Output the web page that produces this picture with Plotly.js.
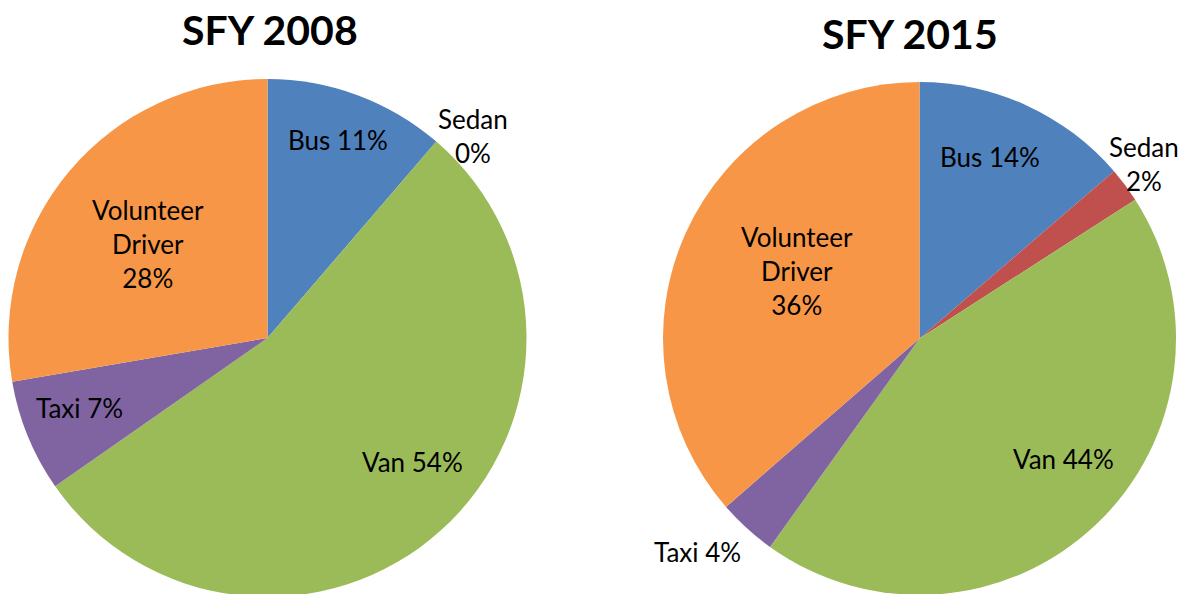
<!DOCTYPE html>
<html>
<head>
<meta charset="utf-8">
<script src="https://cdn.plot.ly/plotly-3.0.1.min.js"></script>
<style>
html,body{margin:0;padding:0;overflow:hidden;background:#fff;}
#chart{width:1190px;height:600px;}
</style>
</head>
<body>
<div id="chart"></div>
<script>
// ---- data ----
const categories = ['Bus', 'Sedan', 'Van', 'Taxi', 'Volunteer Driver'];
const share2008 = [11.3, 0.0, 54.0, 7.0, 27.7];
const share2015 = [13.7, 2.2, 44.0, 3.7, 36.4];
const titles = ['SFY 2008', 'SFY 2015'];
const colors = ['#4F81BD', '#C0504D', '#9BBB59', '#8064A2', '#F79646'];

// ---- layout config ----
const W = 1190, H = 600;
const FONT = 'Lato, "Open Sans", sans-serif';
// pie geometry in pixels: [cx, cy, r]
const pies = [[267.5, 338, 259], [919.5, 338.5, 256.5]];
// label block centres (pixels) per pie, per category
const labelPos = [
  [[338, 140], [473, 136], [412, 462], [79, 408], [148, 244]],
  [[990, 157], [1144, 164], [1063, 459], [697, 552], [797, 271]]
];
const stacked = {'Sedan': true, 'Volunteer Driver': true};
const titlePos = [[269.5, 29], [910, 33]];

function labelText(name, v, total) {
  const pct = Math.round(v / total * 100) + '%';
  const nm = name.replace(' ', '<br>');
  return nm + (stacked[name] ? '<br>' : ' ') + pct;
}

const series = [share2008, share2015];
const traces = [];
const annotations = [];
series.forEach((vals, i) => {
  const [cx, cy, r] = pies[i];
  traces.push({
    type: 'pie',
    labels: categories,
    values: vals,
    sort: false,
    direction: 'clockwise',
    rotation: 0,
    marker: {colors: colors, line: {width: 0}},
    textinfo: 'none',
    hoverinfo: 'label+percent',
    showlegend: false,
    domain: {x: [(cx - r) / W, (cx + r) / W], y: [(H - cy - r) / H, (H - cy + r) / H]}
  });
  const total = vals.reduce((a, b) => a + b, 0);
  categories.forEach((c, k) => {
    const [px, py] = labelPos[i][k];
    annotations.push({
      text: labelText(c, vals[k], total),
      x: px / W, y: (H - py) / H, xref: 'paper', yref: 'paper',
      xanchor: 'center', yanchor: 'middle', showarrow: false, align: 'center',
      font: {family: FONT, size: 26, color: '#000'}
    });
  });
  annotations.push({
    text: '<b>' + titles[i] + '</b>',
    x: titlePos[i][0] / W, y: (H - titlePos[i][1]) / H, xref: 'paper', yref: 'paper',
    xanchor: 'center', yanchor: 'middle', showarrow: false,
    font: {family: FONT, size: 41, color: '#000'}
  });
});

Plotly.newPlot('chart', traces, {
  width: W, height: H,
  margin: {l: 0, r: 0, t: 0, b: 0},
  paper_bgcolor: '#fff',
  annotations: annotations
}, {displayModeBar: false, staticPlot: true});
</script>
</body>
</html>
